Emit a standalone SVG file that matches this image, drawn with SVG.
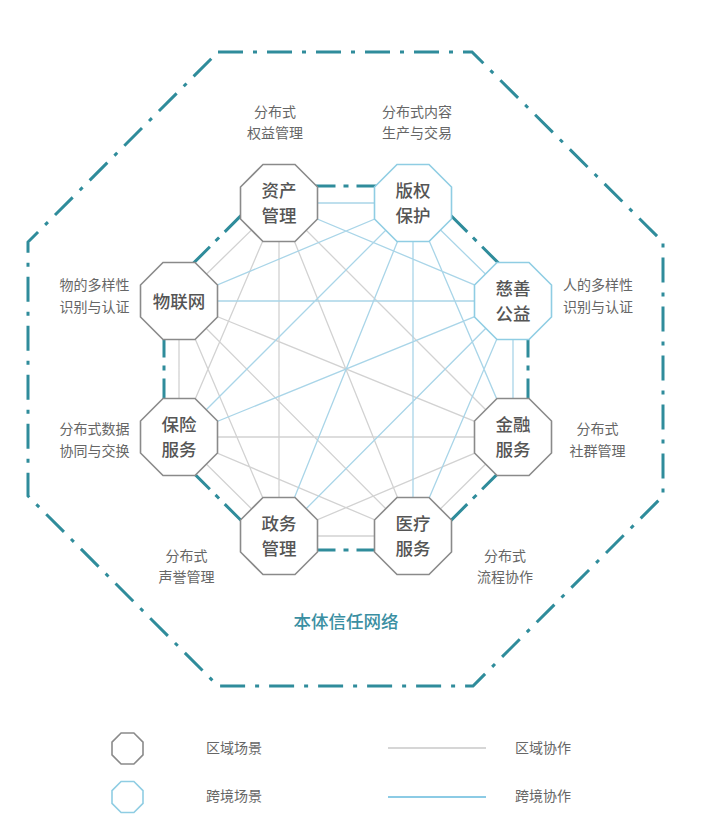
<svg xmlns="http://www.w3.org/2000/svg" width="710" height="828" viewBox="0 0 710 828">
<style>
  .teal { fill: none; stroke: #2f8c9b; stroke-width: 3; }
  .outer { stroke-dasharray: 25 10 4 10; }
  .inner { stroke-dasharray: 25 8 5 8; stroke-dashoffset: 6.1; }
  .gl { fill: none; stroke: #d2d2d2; stroke-width: 1.3; }
  .bl { fill: none; stroke: #a9d5e8; stroke-width: 1.3; }
  .reg { fill: #fff; stroke: #8a8a8a; stroke-width: 1.6; }
  .cross { fill: #fff; stroke: #8fcde3; stroke-width: 1.6; }
  .nt { font-family: "Noto Sans CJK SC", "Noto Sans", sans-serif; font-size: 17.5px; font-weight: 500; fill: #555; text-anchor: middle; }
  .an { font-family: "Noto Sans CJK SC", "Noto Sans", sans-serif; font-size: 14px; fill: #666; text-anchor: middle; }
  .lg { font-family: "Noto Sans CJK SC", "Noto Sans", sans-serif; font-size: 14px; fill: #666; }
  .title { font-family: "Noto Sans CJK SC", "Noto Sans", sans-serif; font-size: 17.5px; font-weight: 500; fill: #3a8fa2; text-anchor: middle; }
</style>
<defs>
  <polygon id="oct" points="-16,-38.5 16,-38.5 38.5,-16 38.5,16 16,38.5 -16,38.5 -38.5,16 -38.5,-16"/>
  <polygon id="octs" points="-6.4,-15.5 6.4,-15.5 15.5,-6.4 15.5,6.4 6.4,15.5 -6.4,15.5 -15.5,6.4 -15.5,-6.4"/>
</defs>
<rect width="710" height="828" fill="#fff"/>

<g id="outer-boundary">
  <polygon class="teal outer" points="218,52 472,52 663,242 663,496 473,686 218,686 28,496 28,242"/>
</g>

<g id="connectors">
  <g id="inner-ring">
    <line class="teal inner" x1="270.6" y1="186" x2="421.4" y2="186"/>
    <line class="teal inner" x1="421.4" y1="186" x2="528" y2="292.6"/>
    <line class="teal inner" x1="528" y1="292.6" x2="528" y2="443.4"/>
    <line class="teal inner" x1="528" y1="443.4" x2="421.4" y2="550"/>
    <line class="teal inner" x1="421.4" y1="550" x2="270.6" y2="550"/>
    <line class="teal inner" x1="270.6" y1="550" x2="164" y2="443.4"/>
    <line class="teal inner" x1="164" y1="443.4" x2="164" y2="292.6"/>
    <line class="teal inner" x1="164" y1="292.6" x2="270.6" y2="186"/>
  </g>
  <path class="gl" d="M279 203L513 437M279 203L413 536M279 203L279 536M279 203L179 437M279 203L179 301M513 437L413 536M513 437L279 536M513 437L179 437M513 437L179 301M413 536L279 536M413 536L179 437M413 536L179 301M279 536L179 437M279 536L179 301M179 437L179 301"/>
  <path class="bl" d="M413 203L279 203M413 203L513 301M413 203L513 437M413 203L413 536M413 203L279 536M413 203L179 437M413 203L179 301M513 301L279 203M513 301L513 437M513 301L413 536M513 301L279 536M513 301L179 437M513 301L179 301"/>
</g>

<g id="node-asset">
  <use href="#oct" class="reg" x="279" y="203"/>
  <text class="nt" x="279" y="196.5">资产</text>
  <text class="nt" x="279" y="221.5">管理</text>
</g>
<g id="node-copyright">
  <use href="#oct" class="cross" x="413" y="203"/>
  <text class="nt" x="413" y="196.5">版权</text>
  <text class="nt" x="413" y="221.5">保护</text>
</g>
<g id="node-charity">
  <use href="#oct" class="cross" x="513" y="301"/>
  <text class="nt" x="513" y="294.5">慈善</text>
  <text class="nt" x="513" y="319.5">公益</text>
</g>
<g id="node-finance">
  <use href="#oct" class="reg" x="513" y="437"/>
  <text class="nt" x="513" y="430.5">金融</text>
  <text class="nt" x="513" y="455.5">服务</text>
</g>
<g id="node-medical">
  <use href="#oct" class="reg" x="413" y="536"/>
  <text class="nt" x="413" y="529.5">医疗</text>
  <text class="nt" x="413" y="554.5">服务</text>
</g>
<g id="node-gov">
  <use href="#oct" class="reg" x="279" y="536"/>
  <text class="nt" x="279" y="529.5">政务</text>
  <text class="nt" x="279" y="554.5">管理</text>
</g>
<g id="node-insurance">
  <use href="#oct" class="reg" x="179" y="437"/>
  <text class="nt" x="179" y="430.5">保险</text>
  <text class="nt" x="179" y="455.5">服务</text>
</g>
<g id="node-iot">
  <use href="#oct" class="reg" x="179" y="301"/>
  <text class="nt" x="179" y="307.5">物联网</text>
</g>

<g id="annotations">
  <text class="an" x="275" y="117">分布式</text>
  <text class="an" x="275" y="138">权益管理</text>
  <text class="an" x="417" y="117">分布式内容</text>
  <text class="an" x="417" y="138">生产与交易</text>
  <text class="an" x="94.5" y="290">物的多样性</text>
  <text class="an" x="94.5" y="312">识别与认证</text>
  <text class="an" x="94.5" y="434">分布式数据</text>
  <text class="an" x="94.5" y="456">协同与交换</text>
  <text class="an" x="598" y="290">人的多样性</text>
  <text class="an" x="598" y="312">识别与认证</text>
  <text class="an" x="597.5" y="434">分布式</text>
  <text class="an" x="597.5" y="456">社群管理</text>
  <text class="an" x="186.5" y="561">分布式</text>
  <text class="an" x="186.5" y="582">声誉管理</text>
  <text class="an" x="505" y="561">分布式</text>
  <text class="an" x="505" y="582">流程协作</text>
  <text class="title" x="346" y="628">本体信任网络</text>
</g>

<g id="legend">
  <use href="#octs" class="reg" x="127.5" y="748.5"/>
  <text class="lg" x="206" y="753">区域场景</text>
  <use href="#octs" class="cross" x="127.5" y="797"/>
  <text class="lg" x="206" y="801">跨境场景</text>
  <line x1="388" y1="748" x2="486" y2="748" stroke="#d6d6d6" stroke-width="2"/>
  <text class="lg" x="515" y="753">区域协作</text>
  <line x1="388" y1="797" x2="486" y2="797" stroke="#8ccbe5" stroke-width="2.2"/>
  <text class="lg" x="515" y="801">跨境协作</text>
</g>
</svg>
